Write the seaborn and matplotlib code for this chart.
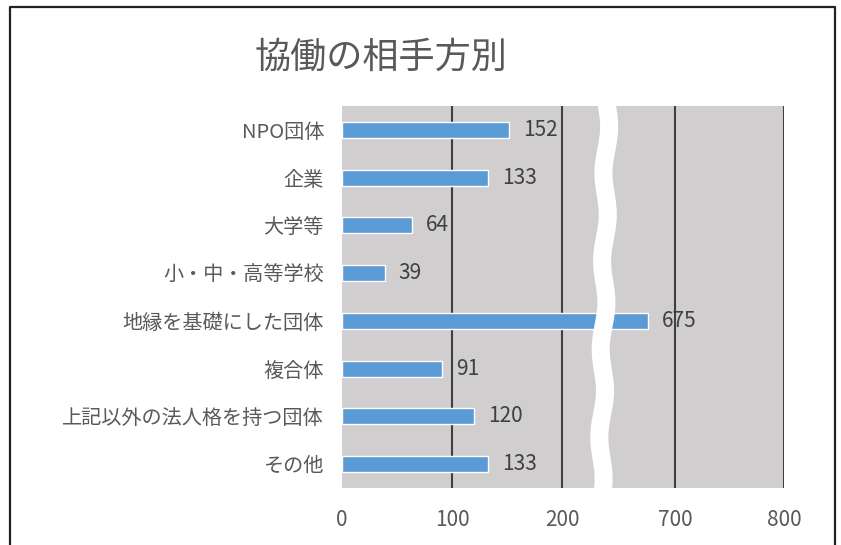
import numpy as np
import pandas as pd
import matplotlib.pyplot as plt
import seaborn as sns

# data
categories = ['NPO団体', '企業', '大学等', '小・中・高等学校',
              '地縁を基礎にした団体', '複合体', '上記以外の法人格を持つ団体', 'その他']
counts = [152, 133, 64, 39, 675, 91, 120, 133]
left_ticks = [0, 100, 200]
right_ticks = [700, 800]
title = '協働の相手方別'

sns.set_theme(style='white')
plt.rcParams['font.family'] = ['Noto Sans CJK JP', 'DejaVu Sans']

W, H = 841, 545
BAR = '#5B9BD5'
FACE = '#D0CECE'
GRID = '#404040'
TXT = '#595959'

df = pd.DataFrame({'cat': categories, 'n': counts})

fig = plt.figure(figsize=(W / 100, H / 100), dpi=100)

# pixel layout of the broken axis
x0, xbrk, x1 = 342, 608, 784
ytop, ybot = 106, 488
px_left = 1.10   # px per unit, left part
px_right = 1.09  # px per unit, right part

axb = (H - ybot) / H
axh = (ybot - ytop) / H
axL = fig.add_axes([x0 / W, axb, (xbrk - x0) / W, axh])
axR = fig.add_axes([xbrk / W, axb, (x1 - xbrk) / W, axh])

split = 400
for ax, lo, hi, ticks in [
    (axL, 0, (xbrk - x0) / px_left, left_ticks),
    (axR, 700 - (675 - xbrk) / px_right, 800, right_ticks),
]:
    sns.barplot(data=df, x='n', y='cat', orient='h', color=BAR,
                width=0.34, saturation=1, ax=ax, zorder=3)
    ax.set_facecolor(FACE)
    ax.set_xlim(lo, hi)
    ax.set_xticks(ticks)
    ax.set_xlabel('')
    ax.set_ylabel('')
    for s in ax.spines.values():
        s.set_visible(False)
    ax.grid(axis='x', color=GRID, lw=1.5, zorder=1)
    ax.set_axisbelow(True)
    ax.tick_params(axis='x', length=0, pad=15, labelsize=15, labelcolor=TXT)
    if ax is axL:
        labs = [str(v) if v < split else '' for v in counts]
    else:
        labs = [str(v) if v >= split else '' for v in counts]
    ax.bar_label(ax.containers[0], labels=labs, padding=10,
                 fontsize=15, color='#404040')

axL.xaxis.get_gridlines()[0].set_visible(False)
axL.tick_params(axis='y', length=0, pad=13, labelsize=14.5, labelcolor=TXT)
axR.set_yticks([])

# overlay for the break mark and the frame
ov = fig.add_axes([0, 0, 1, 1], zorder=10)
ov.set_xlim(0, W)
ov.set_ylim(H, 0)
ov.axis('off')
yy = np.linspace(ytop - 4, ybot + 4, 200)
xx = xbrk - 1 + 2.5 * np.sin((yy - ytop) / 14.0) - 6 * (yy - ytop) / (ybot - ytop)
ov.plot(xx, yy, color='white', lw=13, solid_capstyle='butt')
ov.plot([10, 10, 835, 835], [H + 5, 7, 7, H + 5], color='#222222', lw=1.6)

fig.text(381 / W, 1 - 58 / H, title, ha='center', va='center',
         fontsize=26, color=TXT)

fig.savefig('out.png', dpi=100)
